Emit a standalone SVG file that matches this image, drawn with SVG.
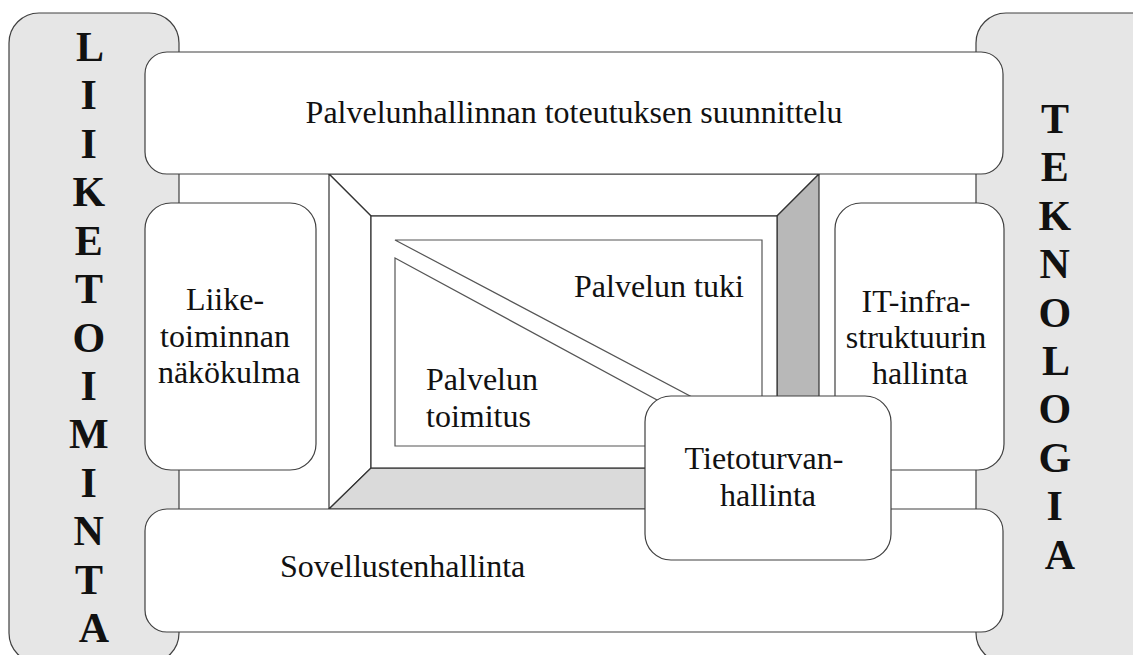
<svg xmlns="http://www.w3.org/2000/svg" width="1133" height="655" viewBox="0 0 1133 655">
  <style>
    .panel { fill: #e6e6e6; stroke: #404040; stroke-width: 1.2; }
    .box { fill: #ffffff; stroke: #404040; stroke-width: 1.2; }
    .bevel { stroke: #333333; stroke-width: 1.2; stroke-linejoin: miter; }
    .tri { fill: #ffffff; stroke: #555555; stroke-width: 1.2; }
    .label { font-family: "Liberation Serif", "Times New Roman", serif; font-size: 32px; fill: #111111; }
    .vert { font-family: "Liberation Serif", "Times New Roman", serif; font-size: 42px; font-weight: bold; fill: #111111; text-anchor: middle; }
  </style>
  <rect width="1133" height="655" fill="#ffffff"/>

  <!-- side panels -->
  <g id="liiketoiminta">
    <rect class="panel" x="9" y="13" width="170" height="650" rx="30" ry="30"/>
    <text class="vert" x="94">
      <tspan x="94" y="61">L</tspan>
      <tspan x="94" y="109.4">I</tspan>
      <tspan x="94" y="157.8">I</tspan>
      <tspan x="94" y="206.3">K</tspan>
      <tspan x="94" y="254.7">E</tspan>
      <tspan x="94" y="303.1">T</tspan>
      <tspan x="94" y="351.5">O</tspan>
      <tspan x="94" y="399.9">I</tspan>
      <tspan x="94" y="448.4">M</tspan>
      <tspan x="94" y="496.8">I</tspan>
      <tspan x="94" y="545.2">N</tspan>
      <tspan x="94" y="593.6">T</tspan>
      <tspan x="94" y="642">A</tspan>
    </text>
  </g>
  <g id="teknologia">
    <rect class="panel" x="976" y="13" width="190" height="650" rx="30" ry="30"/>
    <text class="vert">
      <tspan x="1060" y="133">T</tspan>
      <tspan x="1060" y="181.4">E</tspan>
      <tspan x="1060" y="229.8">K</tspan>
      <tspan x="1060" y="278.2">N</tspan>
      <tspan x="1060" y="326.6">O</tspan>
      <tspan x="1060" y="375">L</tspan>
      <tspan x="1060" y="423.4">O</tspan>
      <tspan x="1060" y="471.8">G</tspan>
      <tspan x="1060" y="520.2">I</tspan>
      <tspan x="1060" y="568.6">A</tspan>
    </text>
  </g>

  <!-- bevelled frame around the service core -->
  <g id="kehys">
    <polygon class="bevel" fill="#ffffff" points="329,174 819,174 777,216 371,216"/>
    <polygon class="bevel" fill="#ffffff" points="329,174 371,216 371,468 329,509"/>
    <polygon class="bevel" fill="#b8b8b8" points="819,174 819,509 777,468 777,216"/>
    <polygon class="bevel" fill="#dadada" points="329,509 371,468 777,468 819,509"/>
    <rect x="371" y="216" width="406" height="252" fill="#ffffff" stroke="#333333" stroke-width="1.2"/>
  </g>

  <g id="palvelun-tuki">
    <polygon class="tri" points="395,240 762,240 762,434"/>
    <text class="label" x="574" y="297">Palvelun tuki</text>
  </g>
  <g id="palvelun-toimitus">
    <polygon class="tri" points="395,258 742,446 395,446"/>
    <text class="label" x="426" y="390">Palvelun</text>
    <text class="label" x="426" y="427">toimitus</text>
  </g>

  <g id="suunnittelu">
    <rect class="box" x="145" y="52" width="858" height="122" rx="22" ry="22"/>
    <text class="label" x="574" y="123" text-anchor="middle">Palvelunhallinnan toteutuksen suunnittelu</text>
  </g>

  <g id="liiketoiminnan-nakokulma">
    <rect class="box" x="145" y="203" width="171" height="267" rx="26" ry="26"/>
    <text class="label" text-anchor="middle">
      <tspan x="229" y="310">Liike-</tspan>
      <tspan x="229" y="347">toiminnan</tspan>
      <tspan x="229" y="383">näkökulma</tspan>
    </text>
  </g>

  <g id="it-infrastruktuuri">
    <rect class="box" x="835" y="203" width="169" height="267" rx="26" ry="26"/>
    <text class="label" text-anchor="middle">
      <tspan x="920" y="312">IT-infra-</tspan>
      <tspan x="920" y="348">struktuurin</tspan>
      <tspan x="920" y="384">hallinta</tspan>
    </text>
  </g>

  <g id="sovellustenhallinta">
    <rect class="box" x="145" y="509" width="858" height="123" rx="22" ry="22"/>
    <text class="label" x="280" y="577">Sovellustenhallinta</text>
  </g>

  <g id="tietoturvanhallinta">
    <rect class="box" x="645" y="396" width="246" height="164" rx="26" ry="26"/>
    <text class="label" text-anchor="middle">
      <tspan x="768" y="469">Tietoturvan-</tspan>
      <tspan x="768" y="506">hallinta</tspan>
    </text>
  </g>
</svg>
